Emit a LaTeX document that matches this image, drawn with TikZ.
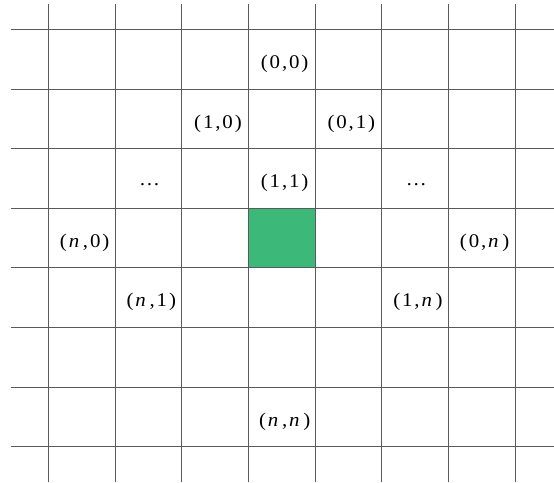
\documentclass[tikz,border=0pt]{standalone}
\usepackage{fontspec}
\usepackage{xcolor}
\usetikzlibrary{positioning}
\newfontfamily\idxfont[LetterSpace=9]{Liberation Serif}
\newcommand{\vn}{\kern1.3pt\textit{n}\kern1.3pt}
\definecolor{cellgreen}{HTML}{3CB878}
\definecolor{gridgray}{HTML}{5A5A5A}
\tikzstyle{gridline} = [draw=gridgray, line width=0.6pt]
\tikzstyle{target}   = [fill=cellgreen, draw=none]
\tikzstyle{idx}      = [inner sep=0pt, font=\idxfont\fontsize{14.5}{17}\selectfont, xscale=1.08, transform shape]

\begin{document}
\begin{tikzpicture}[x=50pt, y=44.7pt]
    \useasboundingbox (-0.7245,0.4916) rectangle (7.585,-7.596);
    \fill[target] (3,-3) rectangle (4,-4);
    \foreach \i in {0,...,7} {
        \draw[gridline] (\i,0.42) -- (\i,-7.6);
        \draw[gridline] (-0.56,-\i) -- (7.585,-\i);
    }

    \node (p00) [idx] at (3.545,-0.58) {(0,0)};
    \node (p10) [idx] at (2.545,-1.58) {(1,0)};
    \node (p01) [idx] at (4.545,-1.58) {(0,1)};
    \node (dotsl) [idx] at (1.52,-2.6) {\dots};
    \node (p11) [idx] at (3.545,-2.58) {(1,1)};
    \node (dotsr) [idx] at (5.52,-2.6) {\dots};
    \node (pn0) [idx] at (0.545,-3.58) {(\vn,0)};
    \node (p0n) [idx] at (6.545,-3.58) {(0,\vn)};
    \node (pn1) [idx] at (1.545,-4.58) {(\vn,1)};
    \node (p1n) [idx] at (5.545,-4.58) {(1,\vn)};
    \node (pnn) [idx] at (3.545,-6.58) {(\vn,\vn)};
\end{tikzpicture}
\end{document}
